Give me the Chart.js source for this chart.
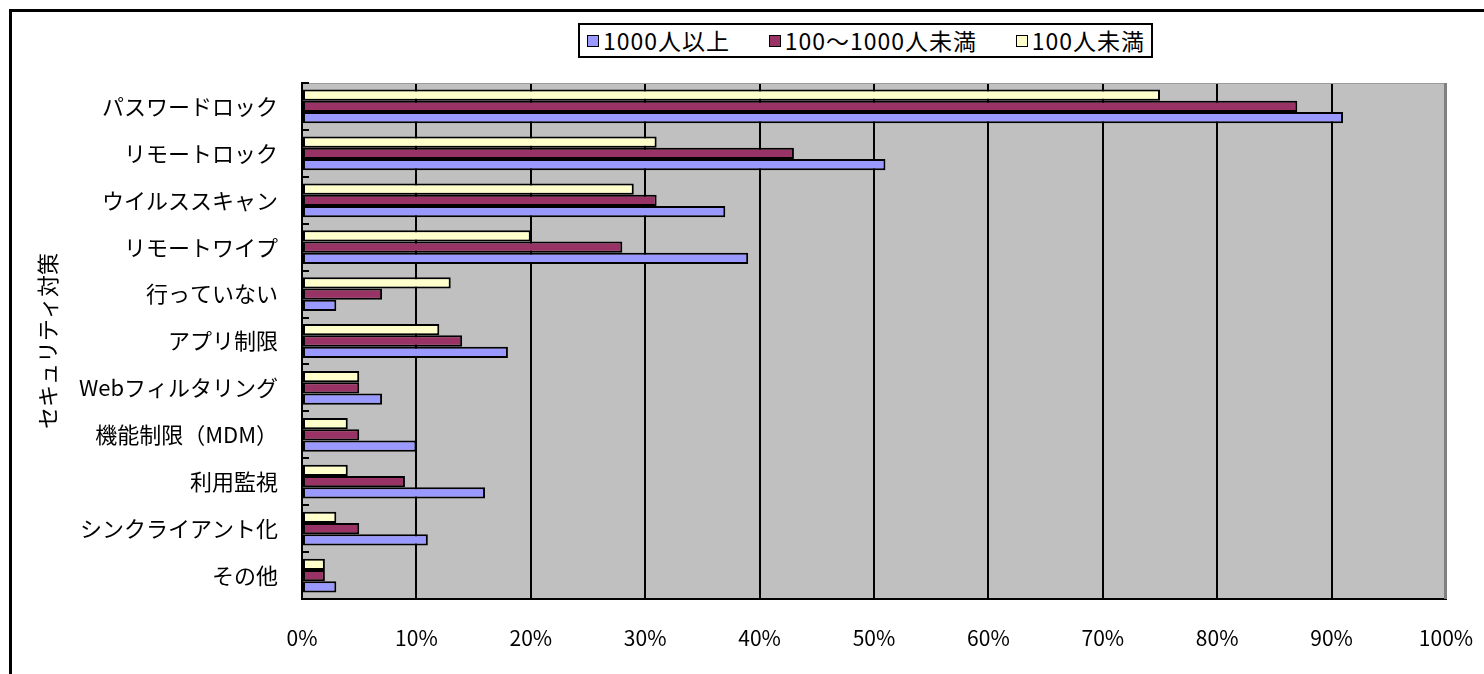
<!DOCTYPE html>
<html lang="ja">
<head>
<meta charset="utf-8">
<title>セキュリティ対策</title>
<script src="https://cdn.jsdelivr.net/npm/chart.js@4/dist/chart.umd.min.js"></script>
<style>
  html, body { margin: 0; padding: 0; background: #fff; overflow: hidden; }
  #wrap { position: relative; width: 1484px; height: 674px; }
  #frame {
    position: absolute; left: 9px; top: 9px; width: 1600px; height: 800px;
    border: 3px solid #000; pointer-events: none; box-sizing: border-box;
  }
  #legend {
    position: absolute; left: 578px; top: 23px; width: 575px;
    height: 35px; box-sizing: border-box; border: 2px solid #000; background: #fff;
    display: flex; align-items: center; justify-content: space-between;
    padding: 0 6px 0 7px; white-space: nowrap;
    font-family: "Noto Sans CJK JP", sans-serif; font-size: 23px; letter-spacing: 1px;
    line-height: 1; color: #000;
  }
  .item { display: flex; align-items: center; }
  .swatch { width: 12px; height: 12px; box-sizing: border-box; border: 1.5px solid #000; margin-right: 4px; flex: none; }
  canvas { position: absolute; left: 0; top: 0; }
</style>
</head>
<body>
<div id="wrap">
  <canvas id="chart" width="1484" height="674"></canvas>
  <div id="legend"></div>
  <div id="frame"></div>
</div>
<script>
// Security measures adopted, by company size (percent)
const categories = [
  'パスワードロック', 'リモートロック', 'ウイルススキャン', 'リモートワイプ',
  '行っていない', 'アプリ制限', 'Webフィルタリング', '機能制限（MDM）',
  '利用監視', 'シンクライアント化', 'その他'
];
const seriesNames = ['1000人以上', '100〜1000人未満', '100人未満'];
const large  = [91, 51, 37, 39, 3, 18, 7, 10, 16, 11, 3];
const medium = [87, 43, 31, 28, 7, 14, 5, 5, 9, 5, 2];
const small  = [75, 31, 29, 20, 13, 12, 5, 4, 4, 3, 2];
const xTicks = [0, 10, 20, 30, 40, 50, 60, 70, 80, 90, 100];

const colors = ['#9999FF', '#993366', '#FFFFCC'];
const FONT = '"Noto Sans CJK JP", sans-serif';

// Smallest company band sits on top of each group, largest at the bottom
const series = [
  { name: seriesNames[2], values: small,  color: colors[2] },
  { name: seriesNames[1], values: medium, color: colors[1] },
  { name: seriesNames[0], values: large,  color: colors[0] }
];

// Grey plot background, plot outline and short inward ticks on the category axis
const plotDecor = {
  id: 'plotDecor',
  beforeDraw(chart) {
    const { ctx, chartArea: a } = chart;
    ctx.save();
    ctx.fillStyle = '#C0C0C0';
    ctx.fillRect(a.left, a.top, a.right - a.left, a.bottom - a.top);
    ctx.restore();
  },
  afterDatasetsDraw(chart) {
    const { ctx, chartArea: a, scales } = chart;
    ctx.save();
    ctx.strokeStyle = '#9a9a9a';
    ctx.lineWidth = 1;
    ctx.beginPath();
    ctx.moveTo(a.left, a.top + 0.5);
    ctx.lineTo(a.right, a.top + 0.5);
    ctx.stroke();
    ctx.strokeStyle = '#808080';
    ctx.lineWidth = 3;
    ctx.beginPath();
    ctx.moveTo(a.right - 0.5, a.top);
    ctx.lineTo(a.right - 0.5, a.bottom);
    ctx.stroke();
    // inward tick marks at category boundaries
    const y = scales.y;
    const n = categories.length;
    const step = (y.bottom - y.top) / n;
    ctx.strokeStyle = '#000';
    ctx.lineWidth = 2;
    ctx.beginPath();
    for (let i = 0; i <= n; i++) {
      const py = Math.round(y.top + i * step);
      ctx.moveTo(a.left, py);
      ctx.lineTo(a.left + 7, py);
    }
    ctx.stroke();
    ctx.restore();
  }
};

const chart = new Chart(document.getElementById('chart'), {
  type: 'bar',
  data: {
    labels: categories,
    datasets: series.map(s => ({
      label: s.name,
      data: s.values,
      backgroundColor: s.color,
      borderColor: '#000',
      borderWidth: 2,
      borderSkipped: false,
      categoryPercentage: 0.72,
      barPercentage: 1.0
    }))
  },
  options: {
    indexAxis: 'y',
    responsive: false,
    animation: false,
    devicePixelRatio: 1,
    layout: { padding: { top: 83, right: 38, bottom: 0, left: 30 } },
    plugins: {
      legend: { display: false },
      tooltip: { enabled: false }
    },
    scales: {
      x: {
        type: 'linear',
        min: 0,
        max: 100,
        afterBuildTicks(scale) { scale.ticks = xTicks.map(v => ({ value: v })); },
        afterFit(scale) {
          scale.height = 75;
          // end labels may overhang the plot; the page margin leaves room for them
          scale.paddingLeft = 0;
          scale.paddingRight = 0;
        },
        ticks: {
          color: '#000',
          padding: 26,
          font: { family: FONT, size: 21 },
          callback: v => v + '%'
        },
        grid: {
          drawTicks: false,
          color: ctx => (ctx.tick && (ctx.tick.value === 0 || ctx.tick.value === 100)) ? 'rgba(0,0,0,0)' : '#000',
          lineWidth: 2
        },
        border: { display: true, color: '#000', width: 2 }
      },
      y: {
        afterFit(scale) { scale.width = 272; },
        ticks: {
          color: '#000',
          padding: 24,
          font: { family: FONT, size: 22 }
        },
        grid: { display: false, drawTicks: false },
        border: { display: true, color: '#000', width: 2 },
        title: {
          display: true,
          text: 'セキュリティ対策',
          color: '#000',
          font: { family: FONT, size: 22 },
          padding: { top: 4, bottom: 0 }
        }
      }
    }
  },
  plugins: [plotDecor]
});

// Legend box, listed from the largest company band to the smallest
const legendEl = document.getElementById('legend');
chart.data.datasets.slice().reverse().forEach(ds => {
  const item = document.createElement('div');
  item.className = 'item';
  const sw = document.createElement('span');
  sw.className = 'swatch';
  sw.style.background = ds.backgroundColor;
  const txt = document.createElement('span');
  txt.textContent = ds.label;
  item.appendChild(sw);
  item.appendChild(txt);
  legendEl.appendChild(item);
});
</script>
</body>
</html>
